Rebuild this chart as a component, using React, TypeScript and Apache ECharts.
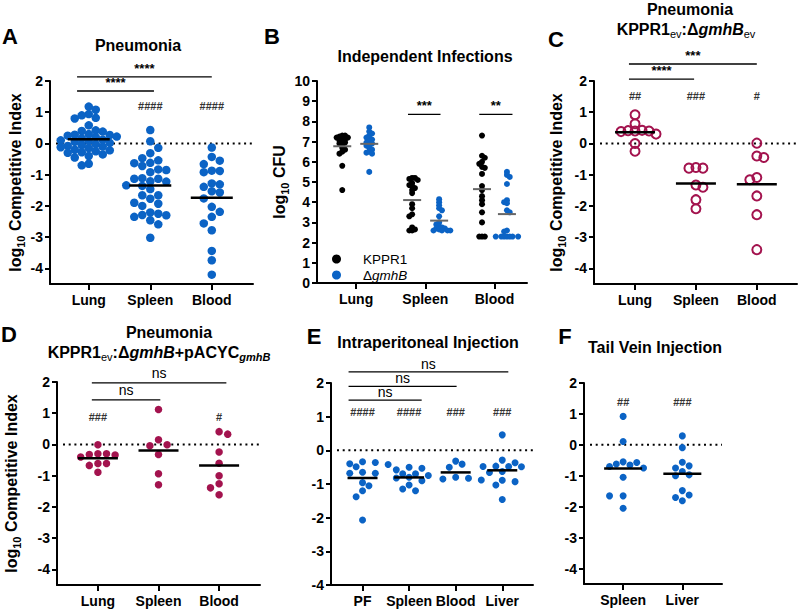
import React, { useEffect, useRef } from 'react';
import * as echarts from 'echarts';

const FONT = '"Liberation Sans", Arial, Helvetica, sans-serif';
const BLUE = '#0b63c5';
const CRIMSON = '#a3134e';

// ---------- DATA ----------
// Panel A: Pneumonia, log10 competitive index
const catsA = ['Lung', 'Spleen', 'Blood'];
const aLung = [1.18, 1.08, 0.94, 0.9, 0.82, 0.8, 0.58, 0.42, 0.4, 0.38, 0.3, 0.28, 0.27, 0.25, 0.22, 0.2, 0.16, 0.12, 0.1, 0.08, 0.05, 0.02, -0.02, -0.05, -0.08, -0.1, -0.12, -0.15, -0.2, -0.22, -0.25, -0.28, -0.3, -0.35, -0.4, -0.45, -0.65, -0.7];
const aSpleen = [0.43, 0.07, -0.14, -0.31, -0.47, -0.54, -0.62, -0.63, -0.72, -0.83, -0.85, -0.92, -1.11, -1.13, -1.13, -1.21, -1.22, -1.34, -1.36, -1.46, -1.66, -1.66, -1.77, -1.9, -1.93, -2.0, -2.21, -2.25, -2.29, -2.3, -2.35, -2.46, -2.59, -3.02];
const aBlood = [-0.13, -0.43, -0.55, -0.66, -0.87, -0.88, -0.92, -1.28, -1.31, -1.39, -1.53, -1.57, -1.76, -2.03, -2.19, -2.35, -2.56, -2.78, -3.44, -3.74, -4.2];
const hashA = ['', '####', '####'];

// Panel B: Independent infections, log10 CFU
const catsB = ['Lung', 'Spleen', 'Blood'];
const bKPPR1Lung = [7.3, 7.3, 7.25, 7.2, 7.2, 7.15, 7.1, 7.05, 7.0, 6.95, 6.9, 6.85, 6.7, 6.6, 6.5, 6.4, 5.8, 4.6];
const bGmhBLung = [7.7, 7.5, 7.4, 7.3, 7.2, 7.15, 7.1, 7.0, 6.95, 6.9, 6.85, 6.8, 6.7, 6.6, 6.5, 6.45, 6.4, 5.5];
const bKPPR1Spleen = [5.2, 5.2, 5.15, 5.1, 4.95, 4.85, 4.8, 4.7, 4.6, 4.45, 3.9, 3.7, 3.4, 3.3, 2.75, 2.65, 2.6, 2.6];
const bGmhBSpleen = [4.15, 4.0, 3.85, 3.7, 3.6, 3.3, 3.0, 2.9, 2.8, 2.75, 2.7, 2.7, 2.65, 2.6, 2.6, 2.6, 2.6];
const bKPPR1Blood = [7.3, 6.3, 6.2, 6.0, 5.9, 5.75, 5.7, 5.4, 4.8, 4.6, 4.3, 4.1, 3.9, 3.5, 3.0, 2.3, 2.3, 2.3];
const bGmhBBlood = [5.5, 5.35, 5.25, 4.9, 4.1, 4.0, 3.95, 3.6, 3.5, 2.6, 2.55, 2.3, 2.3, 2.3, 2.3, 2.3, 2.3, 2.3];
const legendB = ['KPPR1', 'ΔgmhB'];

// Panel C: KPPR1ev:ΔgmhBev
const catsC = ['Lung', 'Spleen', 'Blood'];
const cLung = [0.92, 0.63, 0.42, 0.41, 0.4, 0.4, 0.38, 0.3, 0.0, -0.25];
const cSpleen = [-0.77, -0.79, -0.79, -1.33, -1.4, -1.8, -2.09];
const cBlood = [0.01, -0.4, -0.45, -1.09, -1.16, -1.68, -2.28, -3.4];
const hashC = ['##', '###', '#'];

// Panel D: KPPR1ev:ΔgmhB+pACYCgmhB
const catsD = ['Lung', 'Spleen', 'Blood'];
const dLung = [-0.01, -0.3, -0.3, -0.32, -0.34, -0.4, -0.61, -0.61, -0.67, -0.89];
const dSpleen = [1.12, 0.15, -0.01, -0.04, -0.32, -0.94, -1.29];
const dBlood = [0.41, 0.33, -0.24, -0.6, -1.0, -1.26, -1.39, -1.61];
const hashD = ['###', '', '#'];

// Panel E: Intraperitoneal injection
const catsE = ['PF', 'Spleen', 'Blood', 'Liver'];
const ePF = [-0.34, -0.36, -0.4, -0.42, -0.49, -0.65, -0.68, -0.68, -0.96, -1.05, -1.2, -1.38, -2.07];
const eSpleen = [-0.5, -0.53, -0.58, -0.7, -0.7, -0.75, -0.8, -0.82, -0.9, -1.03, -1.15, -1.2];
const eBlood = [-0.32, -0.41, -0.5, -0.8, -0.83, -0.85, -0.88];
const eLiver = [0.46, -0.29, -0.37, -0.47, -0.48, -0.48, -0.49, -0.63, -0.66, -0.89, -0.93, -1.03, -1.46];
const hashE = ['####', '####', '###', '###'];

// Panel F: Tail vein injection
const catsF = ['Spleen', 'Liver'];
const fSpleen = [0.92, 0.11, -0.55, -0.57, -0.62, -0.65, -0.7, -0.75, -1.05, -1.65, -1.65, -2.05];
const fLiver = [0.29, -0.09, -0.56, -0.68, -0.75, -0.86, -0.97, -1.0, -1.48, -1.62, -1.7, -1.81];
const hashF = ['##', '###'];

const ciTicks = [-4, -3, -2, -1, 0, 1, 2];
const cfuTicks = [0, 1, 2, 3, 4, 5, 6, 7, 8, 9, 10];

// ---------- LAYOUT ----------
type Sig = { x1: number; x2: number; y: number; label: string; dy: number };
interface Panel {
  grid: { left: number; top: number; width: number; height: number };
  xMin: number; xMax: number; yMin: number; yMax: number;
  yTicks: number[]; cats: string[];
  yName: string | null; yNameGap: number;
  zeroLine: boolean; hashes: string[]; hashY: number;
  sig: Sig[];
}

const CI_NAME = '{m|log}{s|10}{m| Competitive Index}';

const panels: Panel[] = [
  { grid: { left: 50, top: 81, width: 203, height: 203 }, xMin: 0.37, xMax: 3.67, yMin: -4.5, yMax: 2, yTicks: ciTicks, cats: catsA,
    yName: CI_NAME, yNameGap: 24, zeroLine: true, hashes: hashA, hashY: 1.2,
    sig: [{ x1: 0.81, x2: 3.0, y: 2.13, label: '****', dy: 2 }, { x1: 0.81, x2: 2.06, y: 1.68, label: '****', dy: 2 }] },
  { grid: { left: 317, top: 81, width: 210, height: 202 }, xMin: 0.435, xMax: 3.47, yMin: 0, yMax: 10, yTicks: cfuTicks, cats: catsB,
    yName: '{m|log}{s|10}{m| CFU}', yNameGap: 22, zeroLine: false, hashes: [], hashY: 0,
    sig: [{ x1: 1.75, x2: 2.22, y: 8.35, label: '***', dy: 2 }, { x1: 2.78, x2: 3.26, y: 8.35, label: '**', dy: 2 }] },
  { grid: { left: 594, top: 81, width: 203, height: 203 }, xMin: 0.326, xMax: 3.66, yMin: -4.5, yMax: 2, yTicks: ciTicks, cats: catsC,
    yName: CI_NAME, yNameGap: 27, zeroLine: true, hashes: hashC, hashY: 1.52,
    sig: [{ x1: 0.9, x2: 3.0, y: 2.545, label: '***', dy: 2 }, { x1: 0.9, x2: 1.97, y: 2.06, label: '****', dy: 2 }] },
  { grid: { left: 57, top: 382, width: 203, height: 203 }, xMin: 0.325, xMax: 3.675, yMin: -4.5, yMax: 2, yTicks: ciTicks, cats: catsD,
    yName: CI_NAME, yNameGap: 35, zeroLine: true, hashes: hashD, hashY: 0.88,
    sig: [{ x1: 0.9, x2: 3.12, y: 1.97, label: 'ns', dy: 10 }, { x1: 0.9, x2: 2.03, y: 1.43, label: 'ns', dy: 10 }] },
  { grid: { left: 331, top: 383, width: 202, height: 202 }, xMin: 0.323, xMax: 4.66, yMin: -4, yMax: 2, yTicks: ciTicks, cats: catsE,
    yName: null, yNameGap: 0, zeroLine: true, hashes: hashE, hashY: 1.14,
    sig: [{ x1: 0.7, x2: 4.13, y: 2.33, label: 'ns', dy: 8 }, { x1: 0.7, x2: 3.02, y: 1.9, label: 'ns', dy: 8 }, { x1: 0.7, x2: 2.27, y: 1.49, label: 'ns', dy: 8 }] },
  { grid: { left: 584, top: 383, width: 138, height: 201 }, xMin: 0.339, xMax: 2.67, yMin: -4.5, yMax: 2, yTicks: ciTicks, cats: catsF,
    yName: null, yNameGap: 0, zeroLine: true, hashes: hashF, hashY: 1.37, sig: [] },
];

interface Group {
  panel: number; x: number; values: number[]; color: string; open: boolean;
  size: number; step: number; minDist: number; hw: number; meanColor: string; meanWidth: number; series: string;
}

const A = { size: 8.5, step: 8, minDist: 7.5, hw: 21, meanColor: '#000', meanWidth: 2.5, open: false };
const Bs = { size: 6, step: 2.8, minDist: 2.8, hw: 9, meanColor: '#666', meanWidth: 2, open: false };
const Cs = { size: 9, step: 7, minDist: 7, hw: 20, meanColor: '#000', meanWidth: 2.5, open: true };
const Ds = { size: 7.5, step: 8.6, minDist: 7.8, hw: 20, meanColor: '#000', meanWidth: 2.5, open: false };
const Es = { size: 7, step: 6.4, minDist: 7, hw: 15, meanColor: '#000', meanWidth: 2.5, open: false };
const Fs = { size: 7, step: 6.8, minDist: 7, hw: 19, meanColor: '#000', meanWidth: 2.5, open: false };

const groups: Group[] = [
  { panel: 0, x: 1, values: aLung, color: BLUE, series: 'A1', ...A, step: 7, minDist: 6.3 },
  { panel: 0, x: 2, values: aSpleen, color: BLUE, series: 'A2', ...A },
  { panel: 0, x: 3, values: aBlood, color: BLUE, series: 'A3', ...A },
  { panel: 1, x: 0.8, values: bKPPR1Lung, color: '#000', series: legendB[0], ...Bs },
  { panel: 1, x: 1.19, values: bGmhBLung, color: BLUE, series: legendB[1], ...Bs },
  { panel: 1, x: 1.81, values: bKPPR1Spleen, color: '#000', series: legendB[0], ...Bs },
  { panel: 1, x: 2.2, values: bGmhBSpleen, color: BLUE, series: legendB[1], ...Bs },
  { panel: 1, x: 2.82, values: bKPPR1Blood, color: '#000', series: legendB[0], ...Bs },
  { panel: 1, x: 3.18, values: bGmhBBlood, color: BLUE, series: legendB[1], ...Bs },
  { panel: 2, x: 1, values: cLung, color: CRIMSON, series: 'C1', ...Cs },
  { panel: 2, x: 2, values: cSpleen, color: CRIMSON, series: 'C2', ...Cs },
  { panel: 2, x: 3, values: cBlood, color: CRIMSON, series: 'C3', ...Cs },
  { panel: 3, x: 1, values: dLung, color: CRIMSON, series: 'D1', ...Ds },
  { panel: 3, x: 2, values: dSpleen, color: CRIMSON, series: 'D2', ...Ds },
  { panel: 3, x: 3, values: dBlood, color: CRIMSON, series: 'D3', ...Ds },
  { panel: 4, x: 1, values: ePF, color: BLUE, series: 'E1', ...Es },
  { panel: 4, x: 2, values: eSpleen, color: BLUE, series: 'E2', ...Es },
  { panel: 4, x: 3, values: eBlood, color: BLUE, series: 'E3', ...Es },
  { panel: 4, x: 4, values: eLiver, color: BLUE, series: 'E4', ...Es },
  { panel: 5, x: 1, values: fSpleen, color: BLUE, series: 'F1', ...Fs },
  { panel: 5, x: 2, values: fLiver, color: BLUE, series: 'F2', ...Fs },
];

// beeswarm: spread points horizontally so dots don't overlap (pixel-space collision)
function swarm(values: number[], cx: number, pxX: number, pxY: number, step: number, minDist: number): number[][] {
  const order = values.map((_, i) => i).sort((a, b) => values[b] - values[a]);
  const placed: { x: number; y: number }[] = [];
  const out: number[][] = new Array(values.length);
  let flip = 1;
  for (const i of order) {
    const y = values[i] * pxY;
    let chosen = 0;
    for (let k = 0; k < 60; k++) {
      const cands = k === 0 ? [0] : [flip * k, -flip * k];
      let found: number | null = null;
      for (const c of cands) {
        const x = c * step;
        if (placed.every((p) => Math.hypot(p.x - x, p.y - y) >= minDist)) { found = x; break; }
      }
      if (found !== null) { chosen = found; if (k > 0) flip = -flip; break; }
    }
    placed.push({ x: chosen, y });
    out[i] = [cx + chosen / pxX, values[i]];
  }
  return out;
}

const mean = (v: number[]) => v.reduce((s, x) => s + x, 0) / v.length;

const richSub = {
  m: { fontSize: 16, fontWeight: 'bold', fontFamily: FONT, color: '#000', lineHeight: 22 },
  s: { fontSize: 11, fontWeight: 'bold', fontFamily: FONT, color: '#000', lineHeight: 22, verticalAlign: 'bottom' },
};

function buildOption() {
  const series: any[] = [];
  const bySeries: Record<string, { g: Group; data: number[][] }> = {};
  const order: string[] = [];
  groups.forEach((g) => {
    const p = panels[g.panel];
    const pxX = p.grid.width / (p.xMax - p.xMin);
    const pxY = p.grid.height / (p.yMax - p.yMin);
    const pts = swarm(g.values, g.x, pxX, pxY, g.step, g.minDist);
    if (!bySeries[g.series]) { bySeries[g.series] = { g, data: [] }; order.push(g.series); }
    bySeries[g.series].data.push(...pts);
  });
  order.forEach((name) => {
    const { g, data } = bySeries[name];
    series.push({
      type: 'scatter', name, xAxisIndex: g.panel, yAxisIndex: g.panel, data,
      symbol: 'circle', symbolSize: g.size, silent: true, z: 3,
      emphasis: { disabled: true },
      itemStyle: g.open
        ? { color: 'rgba(255,255,255,0)', borderColor: g.color, borderWidth: 2, opacity: 1 }
        : { color: g.color, opacity: 1 },
    });
  });
  groups.forEach((g, gi) => {
    series.push({
      type: 'custom', name: 'mean' + gi, xAxisIndex: g.panel, yAxisIndex: g.panel, z: 5, silent: true,
      data: [[g.x, mean(g.values)]],
      renderItem: (_params: any, api: any) => {
        const c = api.coord([api.value(0), api.value(1)]);
        return { type: 'line', shape: { x1: c[0] - g.hw, y1: c[1], x2: c[0] + g.hw, y2: c[1] }, style: { stroke: g.meanColor, lineWidth: g.meanWidth } };
      },
    });
  });

  const labelStyle = { color: '#000', fontSize: 14, fontWeight: 'bold', fontFamily: FONT };
  return {
    animation: false,
    textStyle: { fontFamily: FONT },
    grid: panels.map((p) => ({ left: p.grid.left, top: p.grid.top, width: p.grid.width, height: p.grid.height, containLabel: false, outerBoundsMode: 'none' })),
    xAxis: panels.map((p, i) => {
      const pos = p.cats.map((_, k) => k + 1);
      return {
        type: 'value', gridIndex: i, min: p.xMin, max: p.xMax,
        axisLine: { show: true, onZero: false, lineStyle: { color: '#000', width: 2 } },
        axisTick: { show: true, length: 6, lineStyle: { color: '#000', width: 2 }, customValues: pos },
        axisLabel: { ...labelStyle, customValues: pos, margin: 9, formatter: (v: number) => p.cats[Math.round(v) - 1] ?? '' },
        splitLine: { show: false },
      };
    }),
    yAxis: panels.map((p, i) => ({
      type: 'value', gridIndex: i, min: p.yMin, max: p.yMax,
      axisLine: { show: true, onZero: false, lineStyle: { color: '#000', width: 2 } },
      axisTick: { show: true, length: 5, lineStyle: { color: '#000', width: 2 }, customValues: p.yTicks },
      axisLabel: { ...labelStyle, customValues: p.yTicks, margin: 7 },
      splitLine: { show: false },
      name: p.yName ?? '', nameLocation: 'middle', nameRotate: 90, nameGap: p.yNameGap,
      nameTextStyle: { fontSize: 16, fontWeight: 'bold', color: '#000', fontFamily: FONT, rich: richSub },
    })),
    legend: {
      data: legendB, left: 327, top: 246, orient: 'vertical', itemGap: 0, itemWidth: 9, itemHeight: 9,
      icon: 'circle', selectedMode: false,
      formatter: (name: string) => (name === legendB[1] ? '{n|Δ}{i|gmhB}' : '{n|' + name + '}'),
      textStyle: {
        padding: [0, 0, 0, 17], lineHeight: 16,
        rich: {
          n: { fontSize: 13.5, fontFamily: FONT, color: '#000', lineHeight: 16 },
          i: { fontSize: 13.5, fontFamily: FONT, color: '#000', fontStyle: 'italic', lineHeight: 16 },
        },
      },
    },
    series,
  };
}

function txt(x: number, y: number, text: string, fontSize: number, fontWeight: string, extra: any = {}) {
  return {
    type: 'text', x, y, silent: true, z: 20,
    style: {
      text, fill: '#000', fontFamily: FONT, fontSize, fontWeight,
      align: 'center', verticalAlign: 'middle', textAlign: 'center', textVerticalAlign: 'middle', ...extra,
    },
  };
}

const titleRich = {
  b: { fontSize: 16, fontWeight: 'bold', fontFamily: FONT, fill: '#000', color: '#000', lineHeight: 20 },
  bi: { fontSize: 16, fontWeight: 'bold', fontStyle: 'italic', fontFamily: FONT, fill: '#000', color: '#000', lineHeight: 20 },
  s: { fontSize: 11, fontWeight: 'normal', fontFamily: FONT, fill: '#000', color: '#000', lineHeight: 20, verticalAlign: 'bottom' },
  si: { fontSize: 11, fontWeight: 'bold', fontStyle: 'italic', fontFamily: FONT, fill: '#000', color: '#000', lineHeight: 20, verticalAlign: 'bottom' },
};

export default function App() {
  const ref = useRef<HTMLDivElement>(null);
  useEffect(() => {
    if (!ref.current) return;
    const chart = echarts.init(ref.current, null, { renderer: 'svg' });
    chart.setOption(buildOption() as any);

    const px = (gi: number, x: number, y: number) => chart.convertToPixel({ gridIndex: gi } as any, [x, y]) as unknown as number[];
    const g: any[] = [];
    // panel letters and titles
    g.push(txt(10, 36, 'A', 22, 'bold'));
    g.push(txt(138, 45, 'Pneumonia', 16, 'bold'));
    g.push(txt(272, 36, 'B', 22, 'bold'));
    g.push(txt(425, 56, 'Independent Infections', 16, 'bold'));
    g.push(txt(556, 39, 'C', 22, 'bold'));
    g.push(txt(690, 9, 'Pneumonia', 16, 'bold'));
    g.push(txt(686, 29, '{b|KPPR1}{s|ev}{b|:Δ}{bi|gmhB}{s|ev}', 16, 'bold', { rich: titleRich }));
    g.push(txt(9, 334, 'D', 22, 'bold'));
    g.push(txt(169, 332, 'Pneumonia', 16, 'bold'));
    g.push(txt(159, 352, '{b|KPPR1}{s|ev}{b|:Δ}{bi|gmhB}{b|+pACYC}{si|gmhB}', 16, 'bold', { rich: titleRich }));
    g.push(txt(314, 336, 'E', 22, 'bold'));
    g.push(txt(428, 342, 'Intraperitoneal Injection', 16, 'bold'));
    g.push(txt(565, 336, 'F', 22, 'bold'));
    g.push(txt(655, 347, 'Tail Vein Injection', 16, 'bold'));

    panels.forEach((p, i) => {
      if (p.zeroLine) {
        const y0 = px(i, p.xMin, 0)[1];
        g.push({
          type: 'line', silent: true, z: 1,
          shape: { x1: p.grid.left + 6, y1: y0, x2: p.grid.left + p.grid.width, y2: y0 },
          style: { stroke: '#000', lineWidth: 2, lineDash: [2, 3.7] },
        });
      }
      p.sig.forEach((s) => {
        const a = px(i, s.x1, s.y);
        const b = px(i, s.x2, s.y);
        g.push({ type: 'line', silent: true, z: 20, shape: { x1: a[0], y1: a[1], x2: b[0], y2: a[1] }, style: { stroke: '#000', lineWidth: 1.3 } });
        const isNs = s.label === 'ns';
        g.push(txt((a[0] + b[0]) / 2, a[1] - s.dy, s.label, isNs ? 14 : 13, isNs ? 'normal' : 'bold', isNs ? {} : { verticalAlign: 'bottom', textVerticalAlign: 'bottom' }));
      });
      p.hashes.forEach((h, k) => {
        if (!h) return;
        const c = px(i, k + 1, p.hashY);
        g.push(txt(c[0], c[1], h, 11, 'bold', { fill: '#333' }));
      });
    });
    chart.setOption({ graphic: g } as any);
    return () => chart.dispose();
  }, []);
  return <div ref={ref} style={{ position: 'absolute', left: 0, top: 0, width: 800, height: 612, background: '#fff' }} />;
}
